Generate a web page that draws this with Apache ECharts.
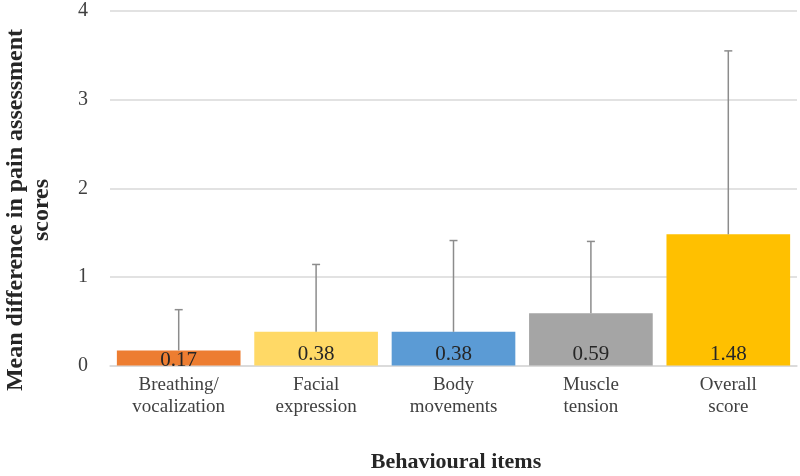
<!DOCTYPE html>
<html>
<head>
<meta charset="utf-8">
<script src="https://cdn.jsdelivr.net/npm/echarts@6/dist/echarts.min.js"></script>
<style>html,body{margin:0;padding:0;background:#fff}#c{width:800px;height:476px}</style>
</head>
<body>
<div id="c"></div>
<script>
const categories = ['Breathing/\nvocalization', 'Facial\nexpression', 'Body\nmovements', 'Muscle\ntension', 'Overall\nscore'];
const meanValues = [0.17, 0.38, 0.38, 0.59, 1.48];
const sdValues = [0.46, 0.76, 1.03, 0.81, 2.07];
const yTicks = [0, 1, 2, 3, 4];
const colors = ['#ED7D31', '#FFD966', '#5B9BD5', '#A5A5A5', '#FFC000'];

const serif = '"Liberation Serif", "DejaVu Serif", serif';
const chart = echarts.init(document.getElementById('c'));

const barData = meanValues.map((v, i) => ({
  value: v,
  itemStyle: { color: colors[i] },
  label: i === 0 ? { offset: [0, 6] } : undefined
}));
const errData = meanValues.map((v, i) => [i, v, v + sdValues[i]]);

chart.setOption({
  animation: false,
  grid: { left: 110, right: 3, top: 11, bottom: 110.5 },
  xAxis: {
    type: 'category',
    data: categories,
    axisLine: { show: true, lineStyle: { color: '#d9d9d9', width: 1.5 } },
    axisTick: { show: false },
    axisLabel: { fontFamily: serif, fontSize: 19, lineHeight: 22, color: '#404040', margin: 9, interval: 0 }
  },
  yAxis: {
    type: 'value',
    min: yTicks[0],
    max: yTicks[yTicks.length - 1],
    interval: 1,
    axisLine: { show: false },
    axisTick: { show: false },
    splitLine: { lineStyle: { color: '#d9d9d9', width: 1.5 } },
    axisLabel: { fontFamily: serif, fontSize: 20, color: '#404040', margin: 22 }
  },
  graphic: [
    {
      type: 'text',
      x: 29, y: 210, rotation: Math.PI / 2,
      style: {
        text: 'Mean difference in pain assessment\nscores',
        font: 'bold 24px ' + serif,
        fill: '#262626', align: 'center', verticalAlign: 'middle', lineHeight: 26
      }
    },
    {
      type: 'text',
      x: 456, y: 462,
      style: {
        text: 'Behavioural items',
        font: 'bold 22px ' + serif,
        fill: '#262626', align: 'center', verticalAlign: 'middle'
      }
    }
  ],
  series: [
    {
      type: 'bar',
      data: barData,
      barWidth: '90%',
      label: {
        show: true, position: 'insideBottom', distance: 1,
        fontFamily: serif, fontSize: 21, color: '#262626',
        formatter: p => p.value.toFixed(2)
      },
      z: 2
    },
    {
      type: 'custom',
      data: errData,
      z: 3,
      renderItem: function (params, api) {
        const x = api.value(0);
        const p0 = api.coord([x, api.value(1)]);
        const p1 = api.coord([x, api.value(2)]);
        const cap = 4;
        const style = { stroke: '#8c8c8c', lineWidth: 1.5 };
        return {
          type: 'group',
          children: [
            { type: 'line', shape: { x1: p0[0], y1: p0[1], x2: p1[0], y2: p1[1] }, style: style },
            { type: 'line', shape: { x1: p1[0] - cap, y1: p1[1], x2: p1[0] + cap, y2: p1[1] }, style: style }
          ]
        };
      }
    }
  ]
});
</script>
</body>
</html>
